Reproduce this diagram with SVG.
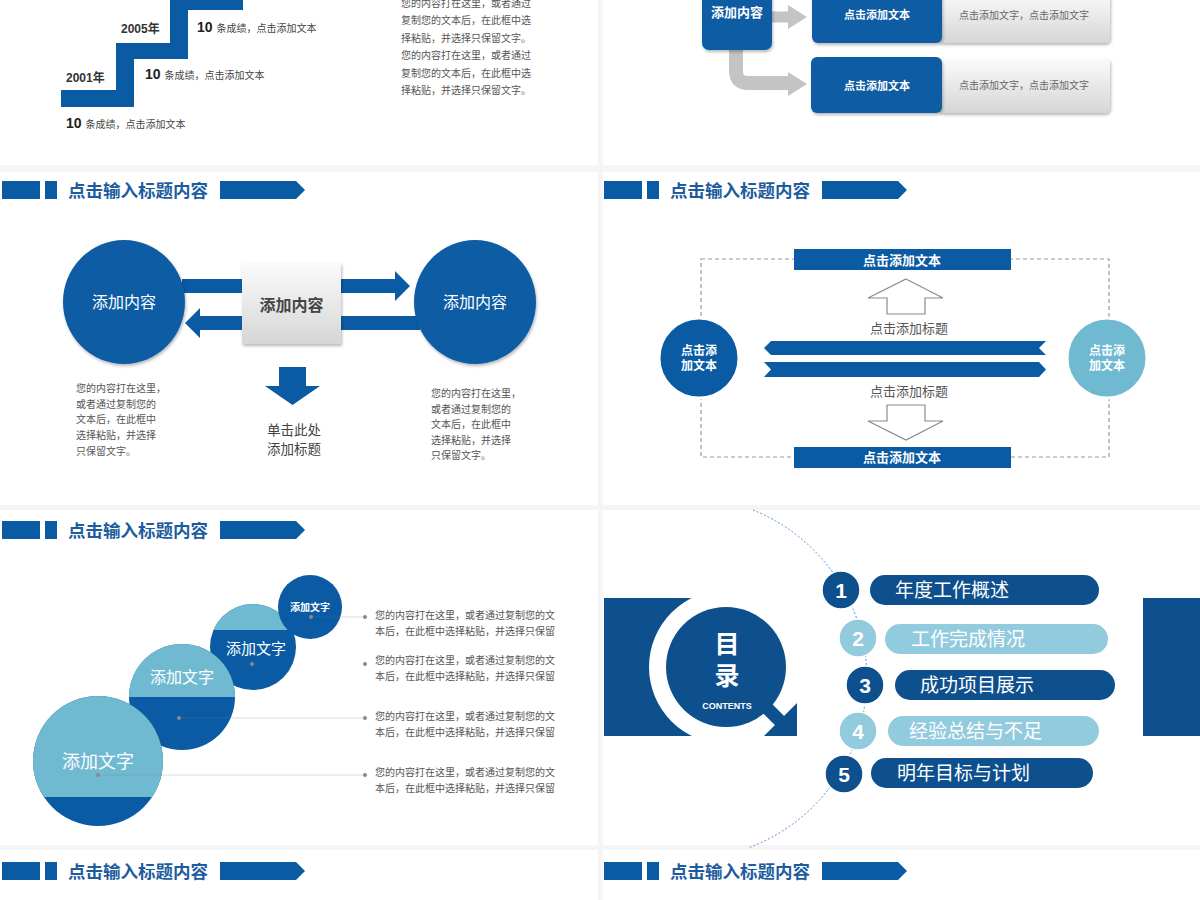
<svg xmlns="http://www.w3.org/2000/svg" width="1200" height="900" viewBox="0 0 1200 900">
<style>
text{font-family:"Liberation Sans","Noto Sans CJK SC",sans-serif}
.panel{fill:#ffffff}
.b{fill:#0a5ba4}
.dk{fill:#0e4f8e}
.lb{fill:#6fbad1}
.lp{fill:#93cbde}
.hd{font-size:17.5px;font-weight:bold;fill:#1d5c9e}
.t10{font-size:10px;fill:#555}
.wt{fill:#ffffff}
.gray{fill:#c4c4c4}
.num{font-size:21px;font-weight:bold;fill:#fff;text-anchor:middle}
.pill{font-size:19px;fill:#fff}
.mid{text-anchor:middle}
</style>
<defs>
<filter id="sh" x="-20%" y="-20%" width="140%" height="150%">
<feDropShadow dx="1" dy="2" stdDeviation="1.5" flood-color="#000" flood-opacity="0.28"/>
</filter>
<linearGradient id="gg" x1="0" y1="0" x2="0" y2="1">
<stop offset="0" stop-color="#fbfbfb"/>
<stop offset="1" stop-color="#d6d6d6"/>
</linearGradient>
<clipPath id="c1"><circle cx="98" cy="761" r="65"/></clipPath>
<clipPath id="c2"><circle cx="182" cy="697" r="53"/></clipPath>
<clipPath id="c3"><circle cx="253" cy="647" r="43"/></clipPath>
</defs>

<rect x="0" y="0" width="1200" height="900" fill="#f5f5f5"/>
<rect class="panel" x="0" y="0" width="598" height="165"/>
<rect class="panel" x="603" y="0" width="597" height="165"/>
<rect class="panel" x="0" y="172" width="598" height="333"/>
<rect class="panel" x="603" y="172" width="597" height="333"/>
<rect class="panel" x="0" y="510" width="598" height="335"/>
<rect class="panel" x="603" y="510" width="597" height="335"/>
<rect class="panel" x="0" y="850" width="598" height="50"/>
<rect class="panel" x="603" y="850" width="597" height="50"/>

<!-- Slide 1: staircase -->
<g id="stairs">
<polygon class="b" points="61,90 116,90 116,43 170,43 170,0 243,0 243,10 188,10 188,59 134,59 134,107 61,107"/>
<text x="121" y="33" font-size="12" font-weight="bold" fill="#333">2005年</text>
<text x="66" y="82" font-size="12" font-weight="bold" fill="#333">2001年</text>
<text x="197" y="32" fill="#222"><tspan font-size="14" font-weight="bold">10 </tspan><tspan font-size="10" fill="#444">条成绩，点击添加文本</tspan></text>
<text x="145" y="79" fill="#222"><tspan font-size="14" font-weight="bold">10 </tspan><tspan font-size="10" fill="#444">条成绩，点击添加文本</tspan></text>
<text x="66" y="128" fill="#222"><tspan font-size="14" font-weight="bold">10 </tspan><tspan font-size="10" fill="#444">条成绩，点击添加文本</tspan></text>
</g>
<g id="stairs-text" class="t10">
<text x="401" y="6.5">您的内容打在这里，或者通过</text>
<text x="401" y="24">复制您的文本后，在此框中选</text>
<text x="401" y="41.5">择粘贴，并选择只保留文字。</text>
<text x="401" y="59">您的内容打在这里，或者通过</text>
<text x="401" y="76.5">复制您的文本后，在此框中选</text>
<text x="401" y="94">择粘贴，并选择只保留文字。</text>
</g>

<!-- Slide 2: flow boxes -->
<g id="flow-connectors">
<polygon class="gray" points="772,11.5 788,11.5 788,5 807,17 788,29 788,22.5 772,22.5"/>
<path d="M736 48 V71 Q736 83 748 83 H789" fill="none" stroke="#c4c4c4" stroke-width="14"/>
<polygon class="gray" points="788,72 807,84 788,96"/>
</g>
<g id="flow-source">
<rect class="b" x="702" y="-12" width="70" height="62" rx="7" filter="url(#sh)"/>
<text x="737" y="17" class="mid" font-size="13" font-weight="bold" fill="#fff">添加内容</text>
</g>
<g id="flow-row1">
<rect x="938" y="-8" width="172" height="51" rx="5" fill="url(#gg)" filter="url(#sh)"/>
<rect class="b" x="812" y="-8" width="130" height="51" rx="6" filter="url(#sh)"/>
<text x="877" y="19" class="mid" font-size="11" font-weight="bold" fill="#fff">点击添加文本</text>
<text x="1024" y="19" class="mid" font-size="10" fill="#666">点击添加文字，点击添加文字</text>
</g>
<g id="flow-row2">
<rect x="938" y="58" width="172" height="55" rx="5" fill="url(#gg)" filter="url(#sh)"/>
<rect class="b" x="811" y="57" width="131" height="56" rx="6" filter="url(#sh)"/>
<text x="877" y="90" class="mid" font-size="11" font-weight="bold" fill="#fff">点击添加文本</text>
<text x="1024" y="89" class="mid" font-size="10" fill="#666">点击添加文字，点击添加文字</text>
</g>

<!-- Headers -->
<g id="header-ml">
<rect class="b" x="2" y="181" width="38" height="18"/>
<rect class="b" x="45" y="181" width="12" height="18"/>
<text class="hd" x="68" y="196.5">点击输入标题内容</text>
<polygon class="b" points="220,181 296,181 305,190 296,199 220,199"/>
</g>
<g id="header-mr">
<rect class="b" x="604" y="181" width="38" height="18"/>
<rect class="b" x="647" y="181" width="12" height="18"/>
<text class="hd" x="670" y="196.5">点击输入标题内容</text>
<polygon class="b" points="822,181 898,181 907,190 898,199 822,199"/>
</g>
<g id="header-bl">
<rect class="b" x="2" y="521" width="38" height="18"/>
<rect class="b" x="45" y="521" width="12" height="18"/>
<text class="hd" x="68" y="536.5">点击输入标题内容</text>
<polygon class="b" points="220,521 296,521 305,530 296,539 220,539"/>
</g>
<g id="header-b2l">
<rect class="b" x="2" y="862" width="38" height="18"/>
<rect class="b" x="45" y="862" width="12" height="18"/>
<text class="hd" x="68" y="877.5">点击输入标题内容</text>
<polygon class="b" points="220,862 296,862 305,871 296,880 220,880"/>
</g>
<g id="header-b2r">
<rect class="b" x="604" y="862" width="38" height="18"/>
<rect class="b" x="647" y="862" width="12" height="18"/>
<text class="hd" x="670" y="877.5">点击输入标题内容</text>
<polygon class="b" points="822,862 898,862 907,871 898,880 822,880"/>
</g>

<!-- Slide 3: two circles with arrows -->
<g id="ml-arrows">
<polygon class="b" points="182,279 395,279 395,271 410,286 395,301 395,293 182,293"/>
<polygon class="b" points="420,316 200,316 200,308 185,323 200,338 200,330 420,330"/>
<polygon class="b" points="279,367 306,367 306,386 320,386 292.5,405 265,386 279,386"/>
</g>
<g id="ml-left">
<ellipse class="b" cx="124" cy="302" rx="61" ry="62" filter="url(#sh)"/>
<text x="124" y="308" class="mid" font-size="16" fill="#fff">添加内容</text>
</g>
<g id="ml-right">
<ellipse class="b" cx="475" cy="302" rx="61" ry="62" filter="url(#sh)"/>
<text x="475" y="308" class="mid" font-size="16" fill="#fff">添加内容</text>
</g>
<g id="ml-center">
<rect x="242" y="263" width="99" height="81" fill="url(#gg)" filter="url(#sh)"/>
<text x="291.5" y="311" class="mid" font-size="16" font-weight="bold" fill="#444">添加内容</text>
</g>
<g id="ml-title">
<text x="294" y="435" class="mid" font-size="13.5" fill="#444">单击此处</text>
<text x="294" y="454" class="mid" font-size="13.5" fill="#444">添加标题</text>
</g>
<g id="ml-text-left" class="t10">
<text x="76" y="392">您的内容打在这里，</text>
<text x="76" y="407.5">或者通过复制您的</text>
<text x="76" y="423">文本后，在此框中</text>
<text x="76" y="439">选择粘贴，并选择</text>
<text x="76" y="455">只保留文字。</text>
</g>
<g id="ml-text-right" class="t10">
<text x="431" y="397">您的内容打在这里，</text>
<text x="431" y="412.5">或者通过复制您的</text>
<text x="431" y="428">文本后，在此框中</text>
<text x="431" y="443.5">选择粘贴，并选择</text>
<text x="431" y="459">只保留文字。</text>
</g>

<!-- Slide 4: dashed frame -->
<g id="mr-frame">
<rect x="701" y="259" width="408" height="198" fill="none" stroke="#9a9a9a" stroke-width="1.2" stroke-dasharray="4 3"/>
</g>
<g id="mr-top">
<rect class="b" x="794" y="249" width="217" height="21"/>
<text x="902" y="265" class="mid" font-size="13" font-weight="bold" fill="#fff">点击添加文本</text>
</g>
<g id="mr-bottom">
<rect class="b" x="794" y="447" width="217" height="21"/>
<text x="902" y="462" class="mid" font-size="13" font-weight="bold" fill="#fff">点击添加文本</text>
</g>
<g id="mr-up">
<polygon points="906,279 943,298 925,298 925,314 887,314 887,298 868,298" fill="#fff" stroke="#8a8a8a" stroke-width="1.2"/>
<text x="909" y="333" class="mid" font-size="13" fill="#555">点击添加标题</text>
</g>
<g id="mr-ribbons">
<polygon class="b" points="764,348 771,341 1046,341 1039,348 1046,355 771,355"/>
<polygon class="b" points="764,362 1039,362 1046,369.5 1039,377 764,377 771,369.5"/>
</g>
<g id="mr-down">
<text x="909" y="396" class="mid" font-size="13" fill="#555">点击添加标题</text>
<polygon points="887,405 925,405 925,421 943,421 906,440 868,421 887,421" fill="#fff" stroke="#8a8a8a" stroke-width="1.2"/>
</g>
<g id="mr-left">
<circle class="b" cx="699" cy="358" r="40" stroke="#fff" stroke-width="3"/>
<text x="699" y="355" class="mid" font-size="12" font-weight="bold" fill="#fff">点击添</text>
<text x="699" y="370" class="mid" font-size="12" font-weight="bold" fill="#fff">加文本</text>
</g>
<g id="mr-right">
<circle class="lb" cx="1107" cy="358" r="40" stroke="#fff" stroke-width="3"/>
<text x="1107" y="355" class="mid" font-size="12" font-weight="bold" fill="#fff">点击添</text>
<text x="1107" y="370" class="mid" font-size="12" font-weight="bold" fill="#fff">加文本</text>
</g>

<!-- Slide 5: stacked circles -->
<g id="bl-c3">
<circle class="b" cx="253" cy="647" r="43"/>
<rect class="lb" x="205" y="600" width="100" height="30" clip-path="url(#c3)"/>
<text x="256" y="654" class="mid" font-size="15" fill="#fff">添加文字</text>
<circle cx="252" cy="664" r="2" fill="#8a8a8a"/>
</g>
<g id="bl-c4">
<circle class="b" cx="310" cy="607" r="32"/>
<text x="310" y="611" class="mid" font-size="10" font-weight="bold" fill="#fff">添加文字</text>
<circle cx="311" cy="617" r="2" fill="#8a8a8a"/>
</g>
<g id="bl-c2">
<circle class="b" cx="182" cy="697" r="53"/>
<rect class="lb" x="125" y="640" width="120" height="57" clip-path="url(#c2)"/>
<text x="182" y="683" class="mid" font-size="16" fill="#fff">添加文字</text>
</g>
<g id="bl-c1">
<circle class="b" cx="98" cy="761" r="65"/>
<rect class="lb" x="30" y="690" width="140" height="107" clip-path="url(#c1)"/>
<text x="98" y="768" class="mid" font-size="18" fill="#fff">添加文字</text>
</g>
<g id="bl-connectors" stroke="#7a7a7a" stroke-opacity="0.25" stroke-width="1">
<line x1="311" y1="617" x2="365" y2="617"/>
<line x1="179" y1="718" x2="365" y2="718"/>
<line x1="98" y1="775" x2="365" y2="775"/>
</g>
<g id="bl-dots" fill="#8a8a8a">
<circle cx="179" cy="718" r="2"/>
<circle cx="98" cy="775" r="2"/>
<circle cx="365" cy="617" r="2"/>
<circle cx="365" cy="664" r="2"/>
<circle cx="365" cy="718" r="2"/>
<circle cx="365" cy="775" r="2"/>
</g>
<g id="bl-texts" font-size="10" fill="#555">
<text x="375" y="619">您的内容打在这里，或者通过复制您的文</text>
<text x="375" y="635">本后，在此框中选择粘贴，并选择只保留</text>
<text x="375" y="664">您的内容打在这里，或者通过复制您的文</text>
<text x="375" y="680">本后，在此框中选择粘贴，并选择只保留</text>
<text x="375" y="720">您的内容打在这里，或者通过复制您的文</text>
<text x="375" y="736">本后，在此框中选择粘贴，并选择只保留</text>
<text x="375" y="776">您的内容打在这里，或者通过复制您的文</text>
<text x="375" y="792">本后，在此框中选择粘贴，并选择只保留</text>
</g>

<!-- Slide 6: contents -->
<g id="toc-arc">
<path d="M753 510 A181 181 0 0 1 748 848" fill="none" stroke="#5a8fd0" stroke-width="1" stroke-dasharray="2 2"/>
</g>
<g id="toc-side">
<rect class="dk" x="604" y="598" width="96" height="138"/>
<rect class="dk" x="1143" y="598" width="57" height="138"/>
</g>
<g id="toc-lens">
<circle cx="726" cy="667" r="77" fill="#fff"/>
<circle class="dk" cx="726" cy="667" r="60"/>
<line x1="758" y1="699" x2="782" y2="723" stroke="#0e4f8e" stroke-width="13"/>
<polygon class="dk" points="797,703 797,736 764,736"/>
<text x="727" y="653" class="mid" font-size="25" font-weight="bold" fill="#fff">目</text>
<text x="727" y="685" class="mid" font-size="25" font-weight="bold" fill="#fff">录</text>
<text x="727" y="709" class="mid" font-size="9" font-weight="bold" fill="#fff">CONTENTS</text>
</g>
<g id="toc-1">
<rect class="dk" x="870" y="575" width="229" height="30" rx="15"/>
<circle class="dk" cx="841" cy="590" r="19" stroke="#fff" stroke-width="1.5"/>
<text class="num" x="841" y="597.5">1</text>
<text class="pill" x="895" y="597">年度工作概述</text>
</g>
<g id="toc-2">
<rect class="lp" x="885" y="624" width="223" height="30" rx="15"/>
<circle class="lp" cx="858" cy="638" r="19" stroke="#fff" stroke-width="1.5"/>
<text class="num" x="858" y="645.5">2</text>
<text class="pill" x="911" y="646">工作完成情况</text>
</g>
<g id="toc-3">
<rect class="dk" x="895" y="670" width="220" height="30" rx="15"/>
<circle class="dk" cx="865" cy="685" r="19" stroke="#fff" stroke-width="1.5"/>
<text class="num" x="865" y="692.5">3</text>
<text class="pill" x="920" y="692">成功项目展示</text>
</g>
<g id="toc-4">
<rect class="lp" x="888" y="716" width="211" height="30" rx="15"/>
<circle class="lp" cx="858" cy="731" r="19" stroke="#fff" stroke-width="1.5"/>
<text class="num" x="858" y="738.5">4</text>
<text class="pill" x="909" y="738">经验总结与不足</text>
</g>
<g id="toc-5">
<rect class="dk" x="871" y="758" width="222" height="30" rx="15"/>
<circle class="dk" cx="844" cy="774" r="19" stroke="#fff" stroke-width="1.5"/>
<text class="num" x="844" y="781.5">5</text>
<text class="pill" x="897" y="780">明年目标与计划</text>
</g>
</svg>
